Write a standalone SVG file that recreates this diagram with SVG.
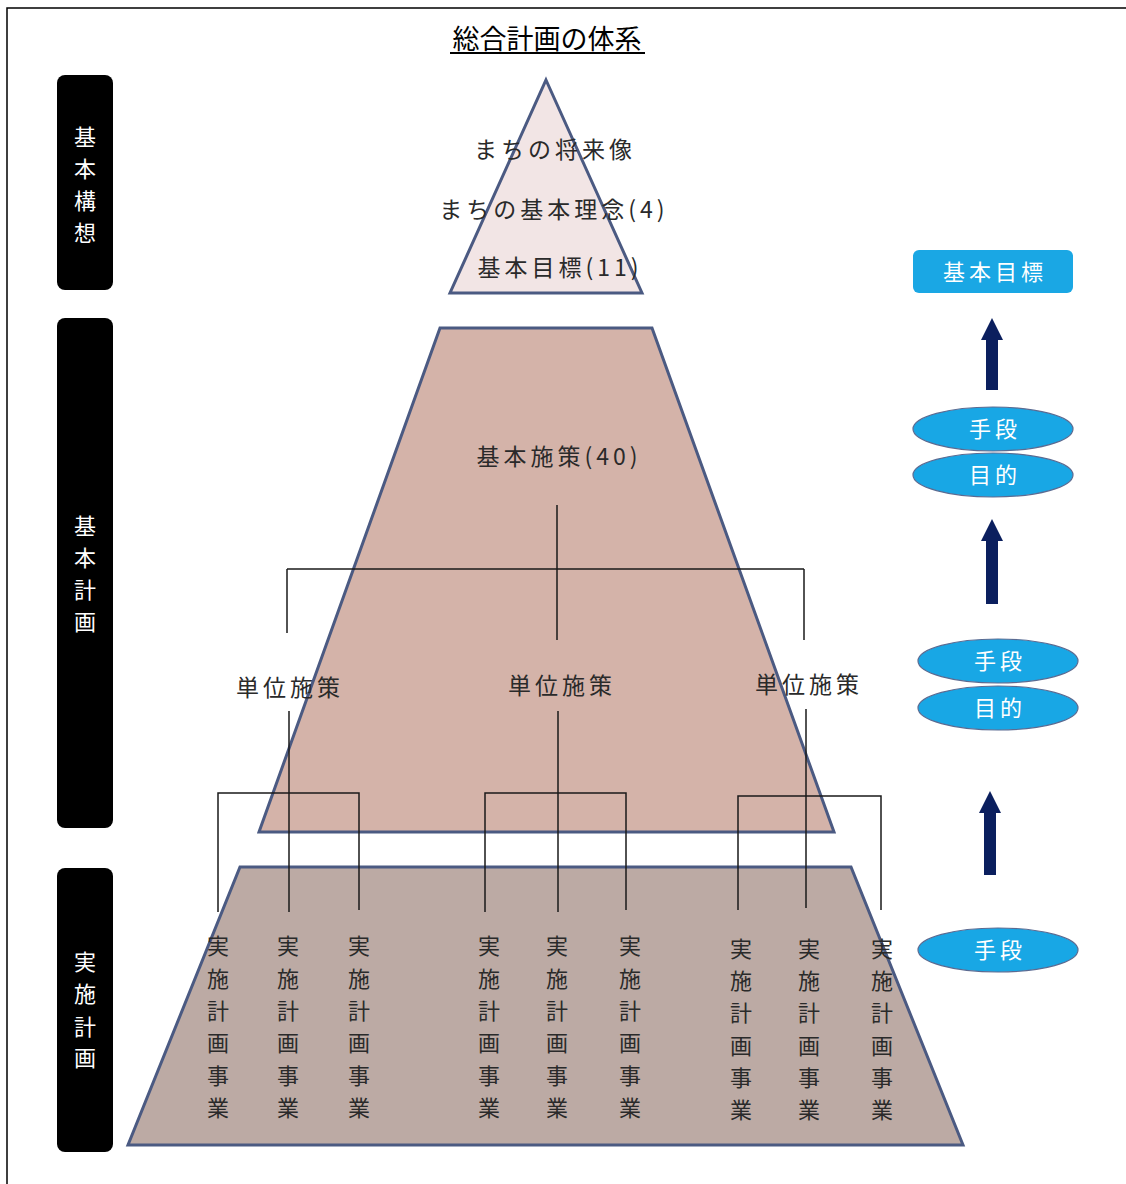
<svg xmlns="http://www.w3.org/2000/svg" width="1126" height="1184" viewBox="0 0 1126 1184">
<style>
.jp{font-family:"Noto Sans CJK JP","Noto Sans CJK SC",sans-serif;}
.t{font-size:23px;fill:#2a2a2a;text-anchor:middle;letter-spacing:4px;}
.v{font-size:22px;fill:#2a2a2a;text-anchor:middle;}
.w{font-size:22px;fill:#ffffff;text-anchor:middle;}
.lbl{fill:#000;}
.shape{stroke:#4b5a82;stroke-width:3;stroke-linejoin:miter;}
.ln{stroke:#1a1a1a;stroke-width:1.5;fill:none;}
.ell{fill:#18a7e5;stroke:#5b6b92;stroke-width:1.2;}
.arr{fill:#0b1f5e;}
</style>
<rect x="7" y="8" width="1125" height="1182" fill="#fff" stroke="#000" stroke-width="1.5"/>
<g id="title">
<text class="jp" x="547" y="49" font-size="27" text-anchor="middle" fill="#000">総合計画の体系</text>
<line x1="450" y1="53" x2="645" y2="53" stroke="#000" stroke-width="2"/>
</g>
<g id="label-kihonkoso">
<rect class="lbl" x="57" y="75" width="56" height="215" rx="8"/>
<g class="jp w"><text x="85" y="145">基</text><text x="85" y="177">本</text><text x="85" y="209">構</text><text x="85" y="241">想</text></g>
</g>
<g id="label-kihonkeikaku">
<rect class="lbl" x="57" y="318" width="56" height="510" rx="8"/>
<g class="jp w"><text x="85" y="534">基</text><text x="85" y="566">本</text><text x="85" y="598">計</text><text x="85" y="630">画</text></g>
</g>
<g id="label-jisshikeikaku">
<rect class="lbl" x="57" y="868" width="56" height="284" rx="8"/>
<g class="jp w"><text x="85" y="970">実</text><text x="85" y="1002">施</text><text x="85" y="1035">計</text><text x="85" y="1066">画</text></g>
</g>
<g id="tri-top">
<polygon class="shape" points="546,80 642,293 450,293" fill="#f2e5e5"/>
</g>
<g id="trap-mid">
<polygon class="shape" points="440,328 652,328 834,832 259,832" fill="#d4b3a9"/>
</g>
<g id="trap-bottom">
<polygon class="shape" points="240,867 851,867 963,1145 128,1145" fill="#bcaaa4"/>
</g>
<g id="connectors">
<line class="ln" x1="557" y1="505" x2="557" y2="640"/>
<line class="ln" x1="287" y1="569" x2="804" y2="569"/>
<line class="ln" x1="287" y1="569" x2="287" y2="633"/>
<line class="ln" x1="804" y1="569" x2="804" y2="640"/>
<line class="ln" x1="289" y1="711" x2="289" y2="912"/>
<line class="ln" x1="558" y1="711" x2="558" y2="912"/>
<line class="ln" x1="806" y1="709" x2="806" y2="908"/>
<polyline class="ln" points="218,912 218,793 359,793 359,910"/>
<polyline class="ln" points="485,912 485,793 626,793 626,910"/>
<polyline class="ln" points="738,910 738,796 881,796 881,910"/>
</g>
<g id="text-top" class="jp t">
<text x="555" y="158">まちの将来像</text>
<text x="554" y="218">まちの基本理念(4)</text>
<text x="560" y="276">基本目標(11)</text>
</g>
<g id="kihonsesaku" class="jp t"><text x="559" y="465">基本施策(40)</text></g>
<g id="tani" class="jp t">
<text x="290" y="696">単位施策</text>
<text x="562" y="694">単位施策</text>
<text x="809" y="693">単位施策</text>
</g>
<g id="jisshi" class="jp v">
<g transform="translate(218,0)"><text y="954">実</text><text y="987">施</text><text y="1019">計</text><text y="1051">画</text><text y="1084">事</text><text y="1116">業</text></g>
<g transform="translate(288,0)"><text y="954">実</text><text y="987">施</text><text y="1019">計</text><text y="1051">画</text><text y="1084">事</text><text y="1116">業</text></g>
<g transform="translate(359,0)"><text y="954">実</text><text y="987">施</text><text y="1019">計</text><text y="1051">画</text><text y="1084">事</text><text y="1116">業</text></g>
<g transform="translate(489,0)"><text y="954">実</text><text y="987">施</text><text y="1019">計</text><text y="1051">画</text><text y="1084">事</text><text y="1116">業</text></g>
<g transform="translate(557,0)"><text y="954">実</text><text y="987">施</text><text y="1019">計</text><text y="1051">画</text><text y="1084">事</text><text y="1116">業</text></g>
<g transform="translate(630,0)"><text y="954">実</text><text y="987">施</text><text y="1019">計</text><text y="1051">画</text><text y="1084">事</text><text y="1116">業</text></g>
<g transform="translate(741,0)"><text y="957">実</text><text y="989">施</text><text y="1021">計</text><text y="1054">画</text><text y="1086">事</text><text y="1118">業</text></g>
<g transform="translate(809,0)"><text y="957">実</text><text y="989">施</text><text y="1021">計</text><text y="1054">画</text><text y="1086">事</text><text y="1118">業</text></g>
<g transform="translate(882,0)"><text y="957">実</text><text y="989">施</text><text y="1021">計</text><text y="1054">画</text><text y="1086">事</text><text y="1118">業</text></g>
</g>
<g id="goal-box">
<rect x="913" y="250" width="160" height="43" rx="6" fill="#1aa7e4"/>
<text class="jp w" x="995" y="280" letter-spacing="4">基本目標</text>
</g>
<g id="arrows" class="arr">
<polygon points="986,390 998,390 998,340 1003,340 992,318 981,340 986,340"/>
<polygon points="986,604 998,604 998,541 1003,541 992,519 981,541 986,541"/>
<polygon points="984,875 996,875 996,813 1001,813 990,791 979,813 984,813"/>
</g>
<g id="ellipses">
<ellipse class="ell" cx="993" cy="429" rx="80" ry="22"/>
<text class="jp w" x="995" y="437" letter-spacing="4">手段</text>
<ellipse class="ell" cx="993" cy="475" rx="80" ry="22"/>
<text class="jp w" x="995" y="483" letter-spacing="4">目的</text>
<ellipse class="ell" cx="998" cy="661" rx="80" ry="22"/>
<text class="jp w" x="1000" y="669" letter-spacing="4">手段</text>
<ellipse class="ell" cx="998" cy="708" rx="80" ry="22"/>
<text class="jp w" x="1000" y="716" letter-spacing="4">目的</text>
<ellipse class="ell" cx="998" cy="950" rx="80" ry="22"/>
<text class="jp w" x="1000" y="958" letter-spacing="4">手段</text>
</g>
</svg>
